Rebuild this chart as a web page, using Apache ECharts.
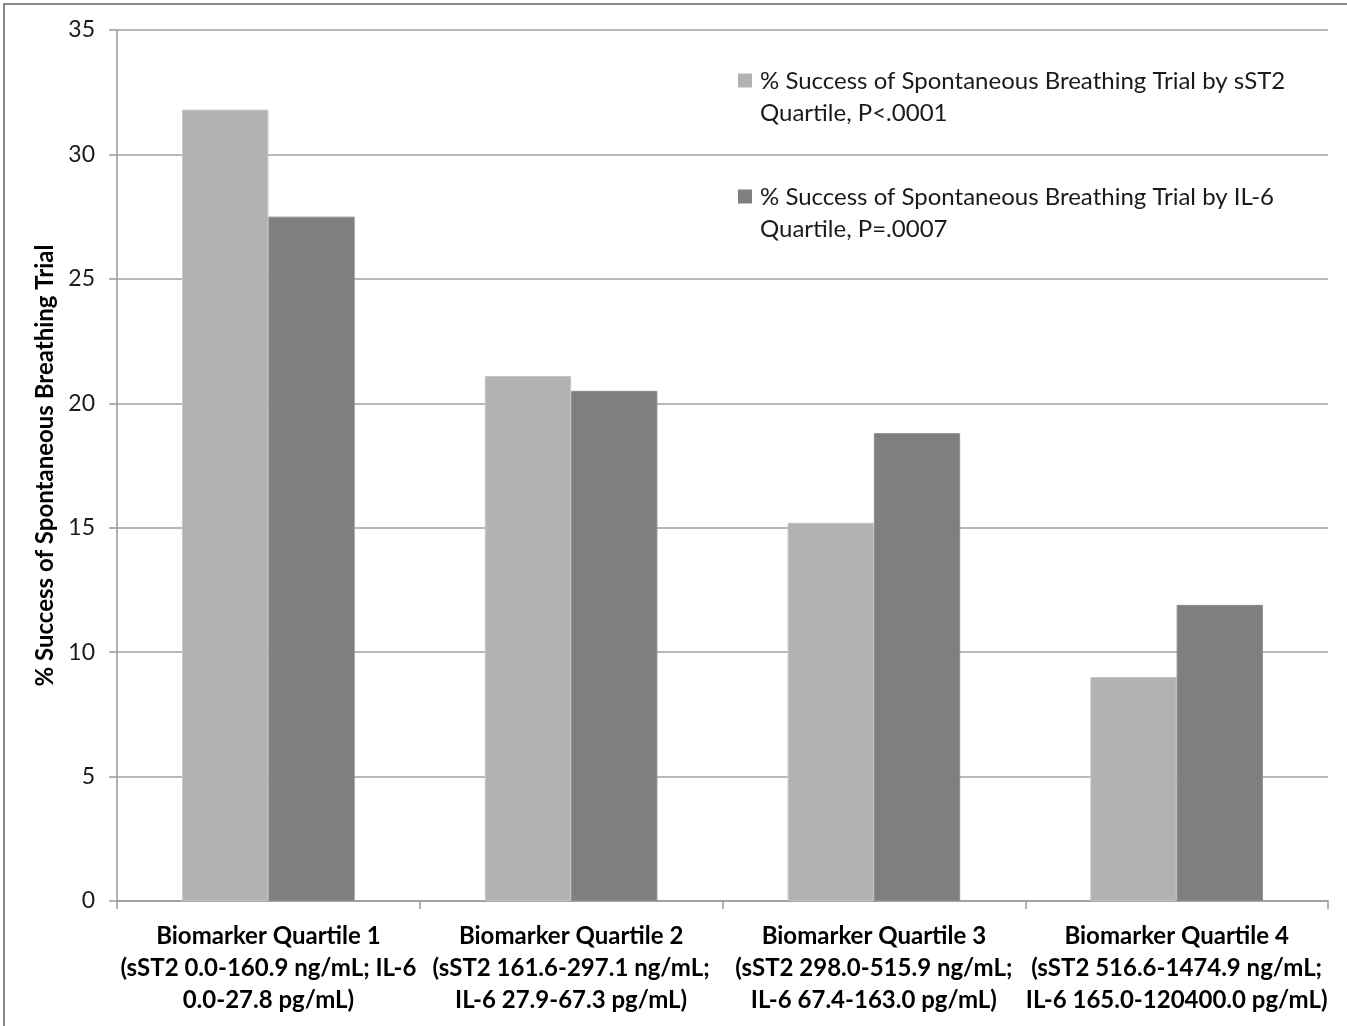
<!DOCTYPE html>
<html>
<head>
<meta charset="utf-8">
<script src="https://cdn.jsdelivr.net/npm/echarts@6/dist/echarts.min.js"></script>
<style>
html,body{margin:0;padding:0;background:#fff;}
#chart{width:1347px;height:1026px;}
</style>
</head>
<body>
<div id="chart"></div>
<script>
var categories = [
  "Biomarker Quartile 1\n(sST2 0.0-160.9 ng/mL; IL-6\n0.0-27.8 pg/mL)",
  "Biomarker Quartile 2\n(sST2 161.6-297.1 ng/mL;\nIL-6 27.9-67.3 pg/mL)",
  "Biomarker Quartile 3\n(sST2 298.0-515.9 ng/mL;\nIL-6 67.4-163.0 pg/mL)",
  "Biomarker Quartile 4\n(sST2 516.6-1474.9 ng/mL;\nIL-6 165.0-120400.0 pg/mL)"
];
var seriesNames = [
  "% Success of Spontaneous Breathing Trial by sST2\nQuartile, P<.0001",
  "% Success of Spontaneous Breathing Trial by IL-6\nQuartile, P=.0007"
];
var sst2Values = [31.8, 21.1, 15.2, 9.0];
var il6Values = [27.5, 20.5, 18.8, 11.9];
var yTicks = [0, 5, 10, 15, 20, 25, 30, 35];

var FONT = "Lato";
// square icon sitting at the top of a taller box so it lines up with the first text line
var legendIcon = 'path://M0,0H10V10H0Z M0,33.57L0.01,33.57';

var chart = echarts.init(document.getElementById('chart'), null, {renderer: 'canvas'});
chart.setOption({
  animation: false,
  backgroundColor: '#ffffff',
  textStyle: {fontFamily: FONT},
  graphic: [{
    type: 'rect',
    shape: {x: 4, y: 4, width: 1500, height: 1200},
    style: {fill: 'none', stroke: '#8a8a8a', lineWidth: 2},
    silent: true
  }],
  grid: {left: 117, right: 19, top: 30, bottom: 125, containLabel: false},
  legend: {
    orient: 'vertical',
    left: 733,
    top: 60,
    itemWidth: 14,
    itemHeight: 47,
    itemGap: 52,
    icon: legendIcon,
    itemStyle: {borderWidth: 0},
    selectedMode: false,
    textStyle: {
      fontFamily: FONT, fontSize: 24, color: '#1a1a1a',
      lineHeight: 32, padding: [0, 0, 0, 3]
    },
    data: seriesNames
  },
  xAxis: {
    type: 'category',
    data: categories,
    axisLine: {show: true, lineStyle: {color: '#9a9a9a', width: 1.5}},
    axisTick: {show: true, length: 8, alignWithLabel: false, lineStyle: {color: '#9a9a9a', width: 1.5}},
    axisLabel: {
      interval: 0, margin: 19, fontFamily: FONT, fontWeight: 'bold',
      fontSize: 24, lineHeight: 32, color: '#000'
    },
    splitLine: {show: false}
  },
  yAxis: {
    type: 'value',
    min: 0, max: 35, interval: 5,
    name: '% Success of Spontaneous Breathing Trial',
    nameLocation: 'middle',
    nameGap: 58,
    nameTextStyle: {fontFamily: FONT, fontWeight: 'bold', fontSize: 24, color: '#000'},
    axisLine: {show: true, lineStyle: {color: '#9a9a9a', width: 1.5}},
    axisTick: {show: true, length: 8, lineStyle: {color: '#9a9a9a', width: 1.5}},
    axisLabel: {
      margin: 22, fontFamily: FONT, fontSize: 23, color: '#1a1a1a',
      formatter: function (v) { return yTicks.indexOf(v) >= 0 ? String(v) : ''; }
    },
    splitLine: {show: true, lineStyle: {color: '#a0a0a0', width: 1.5}}
  },
  series: [
    {
      name: seriesNames[0], type: 'bar', data: sst2Values,
      barGap: '0%', barCategoryGap: '43%',
      itemStyle: {color: '#b2b2b2', borderColor: '#c4c4c4', borderWidth: 1}
    },
    {
      name: seriesNames[1], type: 'bar', data: il6Values,
      barGap: '0%', barCategoryGap: '43%',
      itemStyle: {color: '#7f7f7f', borderColor: '#8c8c8c', borderWidth: 1}
    }
  ]
});
</script>
</body>
</html>
